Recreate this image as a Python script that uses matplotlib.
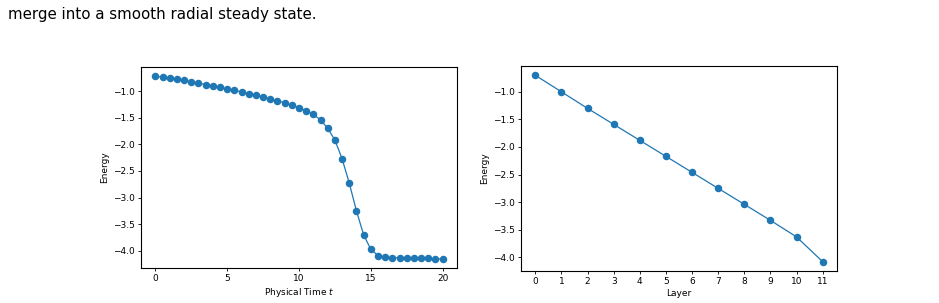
import matplotlib
matplotlib.use('Agg')
import matplotlib.pyplot as plt
import numpy as np

# energy vs physical time
time_t = [0.0, 0.5, 1.0, 1.5, 2.0, 2.5, 3.0, 3.5, 4.0, 4.5,
          5.0, 5.5, 6.0, 6.5, 7.0, 7.5, 8.0, 8.5, 9.0, 9.5,
          10.0, 10.5, 11.0, 11.5, 12.0, 12.5, 13.0, 13.5, 14.0, 14.5,
          15.0, 15.5, 16.0, 16.5, 17.0, 17.5, 18.0, 18.5, 19.0, 19.5, 20.0]
energy_t = [-0.72, -0.74, -0.76, -0.78, -0.80, -0.83, -0.85, -0.88, -0.90, -0.93,
            -0.96, -0.98, -1.02, -1.05, -1.08, -1.11, -1.15, -1.18, -1.22, -1.26,
            -1.31, -1.37, -1.44, -1.54, -1.70, -1.92, -2.27, -2.73, -3.25, -3.70,
            -3.97, -4.09, -4.12, -4.13, -4.13, -4.13, -4.13, -4.14, -4.14, -4.15, -4.15]

# energy vs layer
layers = [0, 1, 2, 3, 4, 5, 6, 7, 8, 9, 10, 11]
energy_l = [-0.70, -1.00, -1.30, -1.59, -1.88, -2.17, -2.46, -2.75, -3.04, -3.33, -3.63, -4.08]

fig = plt.figure(figsize=(9.39, 3.03), dpi=100)

fig.text(0.008, 1 - 19 / 303, 'merge into a smooth radial steady state.',
         fontsize=10.8, va='baseline', ha='left')

ax1 = fig.add_axes([141 / 939, 1 - 268 / 303, 316 / 939, 201 / 303])
ax1.plot(time_t, energy_t, marker='o', markersize=4.4, linewidth=0.9, color='#1f77b4')
ax1.set_xlabel('Physical Time $t$', fontsize=6.5, labelpad=2)
ax1.set_ylabel('Energy', fontsize=6.5, labelpad=3)
ax1.set_xticks([0, 5, 10, 15, 20])

ax2 = fig.add_axes([521 / 939, 1 - 271 / 303, 316 / 939, 205 / 303])
ax2.plot(layers, energy_l, marker='o', markersize=4.4, linewidth=0.9, color='#1f77b4')
ax2.set_xlabel('Layer', fontsize=6.5, labelpad=2)
ax2.set_ylabel('Energy', fontsize=6.5, labelpad=3)
ax2.set_xticks(layers)

for ax in (ax1, ax2):
    ax.tick_params(labelsize=6.5, length=2.5, width=0.6, pad=2)
    for s in ax.spines.values():
        s.set_linewidth(0.8)

plt.savefig('out.png', dpi=100)
